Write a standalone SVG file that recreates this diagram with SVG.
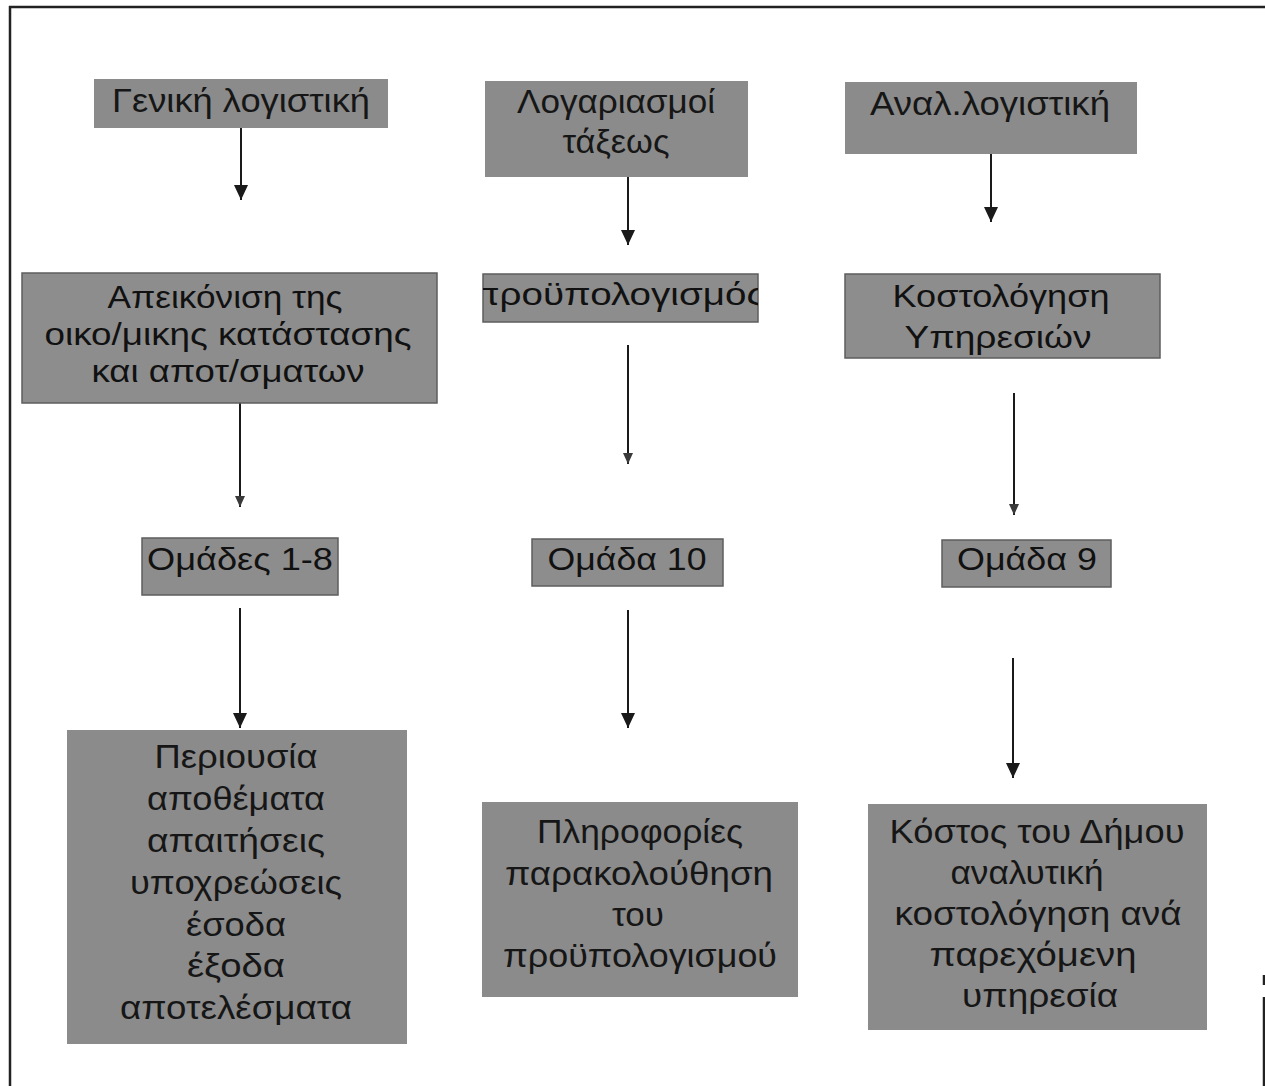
<svg xmlns="http://www.w3.org/2000/svg" width="1265" height="1086" viewBox="0 0 1265 1086">
<style>
.box{fill:#8b8b8b;}
.box2{fill:#8d8d8d;stroke:#5e5e5e;stroke-width:1.5;}
.t{font-family:"Liberation Sans","Noto Sans",sans-serif;font-size:33px;fill:#161616;text-anchor:middle;}
.m{font-family:"Liberation Sans","Noto Sans",sans-serif;font-size:31px;fill:#111;text-anchor:middle;}
.con{stroke:#1a1a1a;stroke-width:2;fill:none;}
.frame{stroke:#222;stroke-width:2.5;fill:none;}
</style>
<defs>
<marker id="ah" viewBox="0 0 14 15" refX="7" refY="15" markerUnits="userSpaceOnUse" markerWidth="14" markerHeight="15">
<path d="M0,0 L14,0 L7,15 Z" fill="#1a1a1a"/>
</marker>
<marker id="ahs" viewBox="0 0 10 11" refX="5" refY="11" markerUnits="userSpaceOnUse" markerWidth="10" markerHeight="11">
<path d="M0,0 L10,0 L5,11 Z" fill="#3a3a3a"/>
</marker>
<clipPath id="clipB"><rect x="483" y="274" width="275" height="48"/></clipPath>
</defs>
<rect width="1265" height="1086" fill="#ffffff"/>
<g id="frame">
<line class="frame" x1="9" y1="7" x2="1265" y2="7"/>
<line class="frame" x1="10" y1="6" x2="10" y2="1086"/>
<line class="frame" x1="1264" y1="975" x2="1264" y2="985"/>
<line class="frame" x1="1264" y1="997" x2="1264" y2="1086"/>
</g>
<g id="connectors">
<line class="con" x1="241" y1="128" x2="241" y2="200" marker-end="url(#ah)"/>
<line class="con" x1="628" y1="177" x2="628" y2="245" marker-end="url(#ah)"/>
<line class="con" x1="991" y1="154" x2="991" y2="222" marker-end="url(#ah)"/>
<line class="con" x1="240" y1="400" x2="240" y2="507" marker-end="url(#ahs)"/>
<line class="con" x1="628" y1="345" x2="628" y2="464" marker-end="url(#ahs)"/>
<line class="con" x1="1014" y1="393" x2="1014" y2="515" marker-end="url(#ahs)"/>
<line class="con" x1="240" y1="608" x2="240" y2="728" marker-end="url(#ah)"/>
<line class="con" x1="628" y1="610" x2="628" y2="728" marker-end="url(#ah)"/>
<line class="con" x1="1013" y1="658" x2="1013" y2="778" marker-end="url(#ah)"/>
</g>
<g id="n1">
<rect class="box" x="94" y="79" width="294" height="49"/>
<text class="t" x="241" y="112" textLength="258" lengthAdjust="spacingAndGlyphs">Γενική λογιστική</text>
</g>
<g id="n2">
<rect class="box" x="485" y="81" width="263" height="96"/>
<text class="t" x="616" y="113" textLength="198" lengthAdjust="spacingAndGlyphs">Λογαριασμοί</text>
<text class="t" x="616" y="153" textLength="107" lengthAdjust="spacingAndGlyphs">τάξεως</text>
</g>
<g id="n3">
<rect class="box" x="845" y="82" width="292" height="72"/>
<text class="t" x="990" y="115" textLength="240" lengthAdjust="spacingAndGlyphs">Αναλ.λογιστική</text>
</g>
<g id="n4">
<rect class="box2" x="22" y="273" width="415" height="130"/>
<text class="m" x="225" y="308" textLength="235" lengthAdjust="spacingAndGlyphs">Απεικόνιση της</text>
<text class="m" x="228" y="345" textLength="367" lengthAdjust="spacingAndGlyphs">οικο/μικης κατάστασης</text>
<text class="m" x="228" y="382" textLength="273" lengthAdjust="spacingAndGlyphs">και αποτ/σματων</text>
</g>
<g id="n5">
<rect class="box2" x="483" y="274" width="275" height="48"/>
<text class="m" x="619" y="305" textLength="292" lengthAdjust="spacingAndGlyphs" clip-path="url(#clipB)">προϋπολογισμός</text>
</g>
<g id="n6">
<rect class="box2" x="845" y="274" width="315" height="84"/>
<text class="m" x="1001" y="307" textLength="217" lengthAdjust="spacingAndGlyphs">Κοστολόγηση</text>
<text class="m" x="998" y="348" textLength="187" lengthAdjust="spacingAndGlyphs">Υπηρεσιών</text>
</g>
<g id="n7">
<rect class="box2" x="142" y="538" width="196" height="57"/>
<text class="m" x="240" y="570" textLength="186" lengthAdjust="spacingAndGlyphs">Ομάδες 1-8</text>
</g>
<g id="n8">
<rect class="box2" x="532" y="539" width="191" height="47"/>
<text class="m" x="627" y="570" textLength="159" lengthAdjust="spacingAndGlyphs">Ομάδα 10</text>
</g>
<g id="n9">
<rect class="box2" x="942" y="540" width="169" height="47"/>
<text class="m" x="1027" y="570" textLength="140" lengthAdjust="spacingAndGlyphs">Ομάδα 9</text>
</g>
<g id="n10">
<rect class="box" x="67" y="730" width="340" height="314"/>
<text class="t" x="236" y="768" textLength="163" lengthAdjust="spacingAndGlyphs">Περιουσία</text>
<text class="t" x="236" y="810" textLength="178" lengthAdjust="spacingAndGlyphs">αποθέματα</text>
<text class="t" x="236" y="852" textLength="178" lengthAdjust="spacingAndGlyphs">απαιτήσεις</text>
<text class="t" x="236" y="894" textLength="212" lengthAdjust="spacingAndGlyphs">υποχρεώσεις</text>
<text class="t" x="236" y="936" textLength="100" lengthAdjust="spacingAndGlyphs">έσοδα</text>
<text class="t" x="236" y="977" textLength="98" lengthAdjust="spacingAndGlyphs">έξοδα</text>
<text class="t" x="236" y="1019" textLength="232" lengthAdjust="spacingAndGlyphs">αποτελέσματα</text>
</g>
<g id="n11">
<rect class="box" x="482" y="802" width="316" height="195"/>
<text class="t" x="640" y="843" textLength="206" lengthAdjust="spacingAndGlyphs">Πληροφορίες</text>
<text class="t" x="639" y="885" textLength="268" lengthAdjust="spacingAndGlyphs">παρακολούθηση</text>
<text class="t" x="638" y="926" textLength="52" lengthAdjust="spacingAndGlyphs">του</text>
<text class="t" x="640" y="967" textLength="274" lengthAdjust="spacingAndGlyphs">προϋπολογισμού</text>
</g>
<g id="n12">
<rect class="box" x="868" y="804" width="339" height="226"/>
<text class="t" x="1037" y="843" textLength="295" lengthAdjust="spacingAndGlyphs">Κόστος του Δήμου</text>
<text class="t" x="1027" y="884" textLength="153" lengthAdjust="spacingAndGlyphs">αναλυτική</text>
<text class="t" x="1038" y="925" textLength="287" lengthAdjust="spacingAndGlyphs">κοστολόγηση ανά</text>
<text class="t" x="1033" y="966" textLength="207" lengthAdjust="spacingAndGlyphs">παρεχόμενη</text>
<text class="t" x="1040" y="1007" textLength="156" lengthAdjust="spacingAndGlyphs">υπηρεσία</text>
</g>
</svg>
